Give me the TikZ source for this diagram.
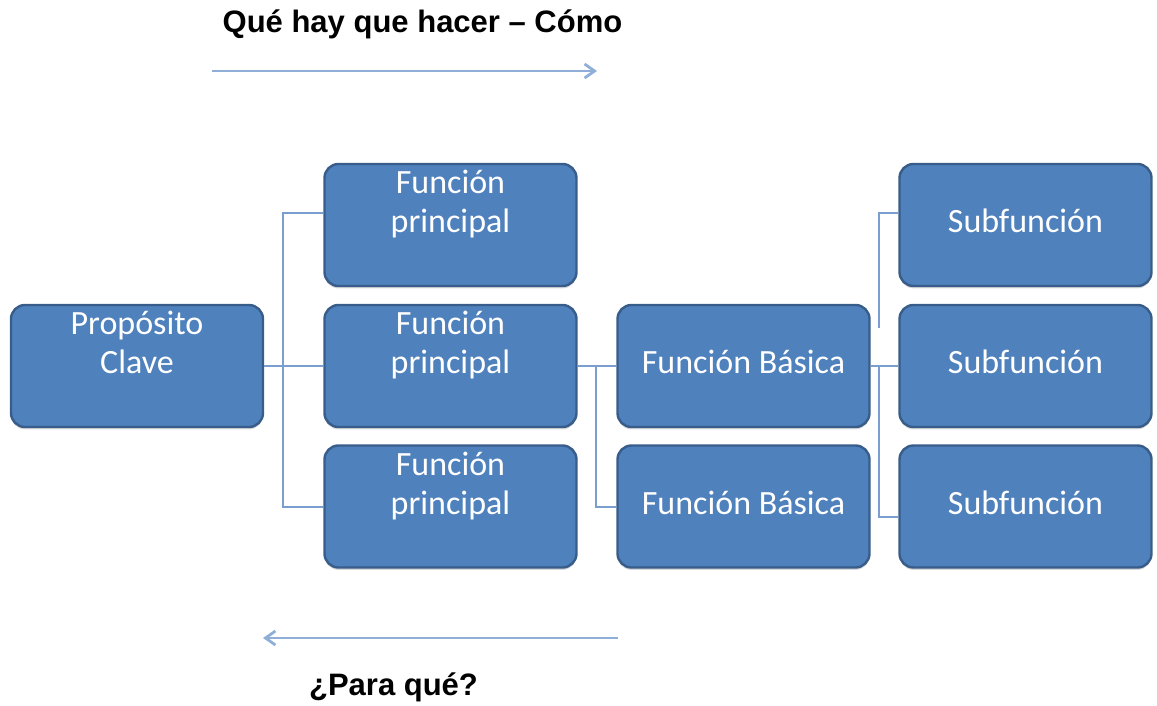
\documentclass[tikz,border=0pt]{standalone}
\usepackage{fontspec}
\setmainfont{Carlito}
\newfontfamily\arialfont{Liberation Sans}
\usepackage{tikz}
\definecolor{boxBlue}{RGB}{79,129,189}
\definecolor{boxEdge}{RGB}{56,93,138}
\definecolor{linkBlue}{RGB}{122,158,208}
\definecolor{arrowBlue}{RGB}{143,175,216}
\usetikzlibrary{arrows.meta}
\usetikzlibrary{shadows}

\begin{document}
\begin{tikzpicture}[x=0.5pt,y=-0.5pt,
        funcbox/.style={draw=boxEdge, line width=1.2pt, fill=boxBlue, rounded corners=7pt,
            minimum width=126pt, minimum height=61pt, inner sep=1pt, align=center, text=white,
            font=\fontsize{17}{19.5}\selectfont,
            drop shadow={shadow xshift=0pt, shadow yshift=-1.2pt, opacity=.3}},
        link/.style={draw=linkBlue, line width=1pt},
        flow/.style={draw=arrowBlue, line width=1.4pt, -{Straight Barb[length=5pt,width=7pt]}},
        heading/.style={font=\arialfont\bfseries\fontsize{15.5}{18}\selectfont, anchor=base}]
        \useasboundingbox (0,0) rectangle (1157,706);

        \node[heading] (howtitle) at (422.5,33) {Qué hay que hacer – Cómo};
        \node[heading] (whytitle) at (393.5,695) {¿Para qué?};
        \coordinate (howstart) at (212,71);
        \coordinate (howend)   at (597,71);
        \coordinate (whystart) at (618,638);
        \coordinate (whyend)   at (263,638);

        \node[funcbox] (key) at (137,366) {\strut Propósito\\\strut Clave\\\strut};

        \node[funcbox] (main1) at (450.5,225)   {\strut Función\\\strut principal\\\strut};
        \node[funcbox] (main2) at (450.5,366)   {\strut Función\\\strut principal\\\strut};
        \node[funcbox] (main3) at (450.5,506.5) {\strut Función\\\strut principal\\\strut};

        \node[funcbox] (basic1) at (743.5,366)   {\strut Función Básica};
        \node[funcbox] (basic2) at (743.5,506.5) {\strut Función Básica};

        \node[funcbox] (sub1) at (1025.5,225)   {\strut Subfunción};
        \node[funcbox] (sub2) at (1025.5,366)   {\strut Subfunción};
        \node[funcbox] (sub3) at (1025.5,506.5) {\strut Subfunción};

        % links between the levels
        \draw[link] (key.east) -- (main2.west);
        \draw[link] ([yshift=6pt]main1.west) -| ([xshift=-20pt]main3.west) -- (main3.west);

        \draw[link] (main2.east) -- (basic1.west);
        \draw[link] ([xshift=-10pt]basic1.west) |- (basic2.west);

        \draw[link] (basic1.east) -- (sub2.west);
        \draw[link] ([yshift=6pt]sub1.west) -| ([xshift=-9.5pt,yshift=19pt]sub2.west);
        \draw[link] ([xshift=-9.5pt]sub2.west) |- ([yshift=-5pt]sub3.west);

        % direction arrows
        \draw[flow] (howstart) -- (howend);
        \draw[flow] (whystart) -- (whyend);
    \end{tikzpicture}
\end{document}
